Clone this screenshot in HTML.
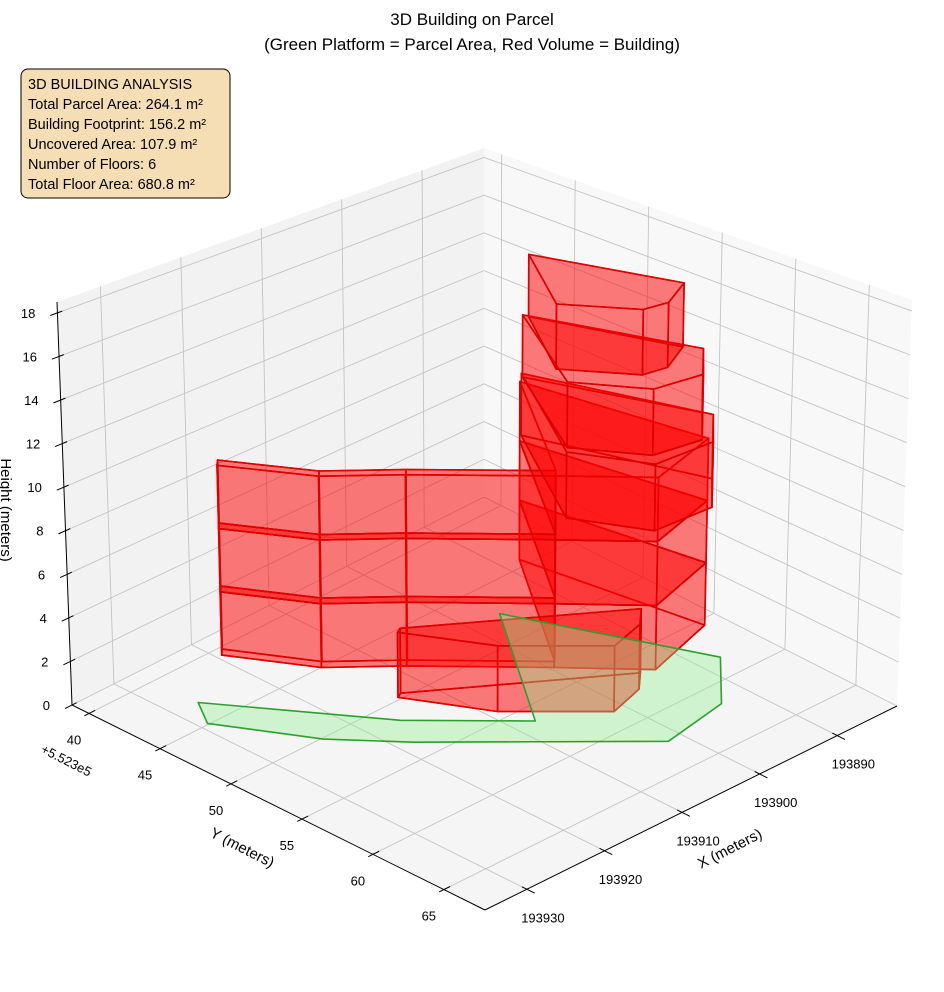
<!DOCTYPE html>
<html><head><meta charset="utf-8"><style>
html,body{margin:0;padding:0;background:#fff;}
svg{display:block;font-family:"Liberation Sans",sans-serif;}
</style></head><body>
<svg id="chart" width="944" height="992" viewBox="0 0 944 992" xmlns="http://www.w3.org/2000/svg">
<rect width="944" height="992" fill="#fff"/>
<g id="panes"></g>
<g id="grid"></g>
<g id="axes"></g>
<g id="building"></g>
<g id="parcel"></g>
<g id="labels"></g>
<text x="472" y="25" text-anchor="middle" font-size="17" fill="#000">3D Building on Parcel</text>
<text x="472" y="50" text-anchor="middle" font-size="17" fill="#000">(Green Platform = Parcel Area, Red Volume = Building)</text>
<g>
<rect x="21" y="69" width="209" height="129" rx="7" fill="#f5deb3" stroke="#000" stroke-width="1"/>
<text x="28" y="89" font-size="14.5">3D BUILDING ANALYSIS</text>
<text x="28" y="109" font-size="14.5">Total Parcel Area: 264.1 m²</text>
<text x="28" y="129" font-size="14.5">Building Footprint: 156.2 m²</text>
<text x="28" y="149" font-size="14.5">Uncovered Area: 107.9 m²</text>
<text x="28" y="169" font-size="14.5">Number of Floors: 6</text>
<text x="28" y="189" font-size="14.5">Total Floor Area: 680.8 m²</text>
</g>
<text transform="translate(240,852) rotate(27)" text-anchor="middle" font-size="15">Y (meters)</text>
<text transform="translate(732,853) rotate(-27)" text-anchor="middle" font-size="15">X (meters)</text>
<text transform="translate(1,510) rotate(90)" text-anchor="middle" font-size="15">Height (meters)</text>
<text transform="translate(40,752) rotate(27)" font-size="13">+5.523e5</text>
</svg>
<script>
// ---- data ----
const xTicks = [193890, 193900, 193910, 193920, 193930];
const yTicks = [40, 45, 50, 55, 60, 65];
const zTicks = [0, 2, 4, 6, 8, 10, 12, 14, 16, 18];
const parcelX = [193927.0, 193916.3, 193907.7, 193896.2, 193887.5, 193893.4, 193901.7, 193918.3, 193923.7, 193929.1];
const parcelY = [43.1, 51.5, 56.3, 47.5, 58.3, 61.6, 62.4, 53.5, 50.1, 44.9];
const lowX = [193919.4, 193914.6, 193908.9, 193899.6, 193893.3, 193884.4, 193888.0, 193898.8, 193908.1, 193913.8, 193918.6];
const lowY = [40.6, 45.0, 47.9, 53.2, 56.9, 55.5, 44.4, 52.8, 47.5, 44.6, 40.2];
const lowFloors = [0, 1, 2];
const boxX = [193913.5, 193908.9, 193901.4, 193896.9, 193894.7, 193912.8];
const boxY = [49.8, 54.3, 58.4, 57.7, 56.6, 49.6];
const boxFloors = [0];
const f3X = [193895.8, 193890.1, 193894.3, 193901.4, 193905.1];
const f3Y = [48.75, 58.85, 61.15, 61.05, 56.95];
const f4X = [193896.3, 193890.5, 193894.7, 193900.2, 193904.4];
const f4Y = [49.1, 58.3, 60.6, 60.2, 56.6];
const f5X = [193896.2, 193891.5, 193895.8, 193898.6, 193903.0];
const f5Y = [49.45, 57.45, 58.75, 58.55, 55.05];
const floorHeight = 3;

// ---- axis setup ----
const xmin = 193882.3, xmax = 193935.4, ymin = 38.8, ymax = 67.9, zmin = 0, zmax = 18.5;
const C = {
  b00: [484, 497], b10: [72, 705], b11: [485, 910], b01: [897, 706],
  t00: [484, 148], t10: [57, 302], t11: [485, 455], t01: [912, 300]
};
function lerp(p, q, t) { return [p[0] + (q[0] - p[0]) * t, p[1] + (q[1] - p[1]) * t]; }
function proj(x, y, z) {
  const a = (x - xmin) / (xmax - xmin), b = (y - ymin) / (ymax - ymin), c = (z - zmin) / (zmax - zmin);
  const bot = lerp(lerp(C.b00, C.b10, a), lerp(C.b01, C.b11, a), b);
  const top = lerp(lerp(C.t00, C.t10, a), lerp(C.t01, C.t11, a), b);
  return lerp(bot, top, c);
}
const NS = 'http://www.w3.org/2000/svg';
function mk(tag, parent, attrs) {
  const e = document.createElementNS(NS, tag);
  for (const k in attrs) e.setAttribute(k, attrs[k]);
  parent.appendChild(e); return e;
}
function pts(list) { return list.map(p => p[0].toFixed(1) + ',' + p[1].toFixed(1)).join(' '); }

// panes
const panes = document.getElementById('panes');
let e;
e = mk('polygon', panes, { points: pts([proj(xmin, ymin, 0), proj(xmax, ymin, 0), proj(xmax, ymin, zmax), proj(xmin, ymin, zmax)]), fill: '#f2f2f2' });


e = mk('polygon', panes, { points: pts([proj(xmin, ymin, 0), proj(xmin, ymax, 0), proj(xmin, ymax, zmax), proj(xmin, ymin, zmax)]), fill: '#f8f8f8' });


e = mk('polygon', panes, { points: pts([proj(xmin, ymin, 0), proj(xmax, ymin, 0), proj(xmax, ymax, 0), proj(xmin, ymax, 0)]), fill: '#f5f5f5' });



// grid
const grid = document.getElementById('grid');
function gl(p, q, name) {
  const l = mk('line', grid, { x1: p[0], y1: p[1], x2: q[0], y2: q[1], stroke: '#c4c4c4', 'stroke-width': 0.9 });
  
  
}
xTicks.forEach(x => {
  gl(proj(x, ymin, 0), proj(x, ymax, 0), 'x-grid-floor');
  gl(proj(x, ymin, 0), proj(x, ymin, zmax), 'x-grid-wall');
});
yTicks.forEach(y => {
  gl(proj(xmin, y, 0), proj(xmax, y, 0), 'y-grid-floor');
  gl(proj(xmin, y, 0), proj(xmin, y, zmax), 'y-grid-wall');
});
zTicks.forEach(z => {
  gl(proj(xmax, ymin, z), proj(xmin, ymin, z), 'z-grid-left');
  gl(proj(xmin, ymin, z), proj(xmin, ymax, z), 'z-grid-right');
});

// axes lines and ticks
const axes = document.getElementById('axes');
function al(p, q, name, w) {
  const l = mk('line', axes, { x1: p[0], y1: p[1], x2: q[0], y2: q[1], stroke: '#000', 'stroke-width': w });
  
  
}
al(proj(xmax, ymin, 0), proj(xmax, ymin, zmax), 'z-axis-line', 1);
al(proj(xmax, ymin, 0), proj(xmax, ymax, 0), 'y-axis-line', 1);
al(proj(xmax, ymax, 0), proj(xmin, ymax, 0), 'x-axis-line', 1);
const labels = document.getElementById('labels');
function tl(p, txt, anchor, name) {
  const t = mk('text', labels, { x: p[0].toFixed(1), y: p[1].toFixed(1), 'text-anchor': anchor, 'font-size': 13, fill: '#000' });
  t.textContent = txt;
  
  
}
xTicks.forEach(x => {
  al(proj(x, ymax - 0.35, 0), proj(x, ymax + 0.55, 0), 'x-tick', 1);
  const p = proj(x, ymax, 0);
  tl([p[0] + 16, p[1] + 33], String(x), 'middle', 'x-tick-label');
});
yTicks.forEach(y => {
  al(proj(xmax - 0.8, y, 0), proj(xmax + 0.6, y, 0), 'y-tick', 1);
  const p = proj(xmax, y, 0);
  tl([p[0] - 15, p[1] + 31], String(y), 'middle', 'y-tick-label');
});
zTicks.forEach(z => {
  al(proj(xmax + 0.9, ymin, z), proj(xmax - 0.6, ymin, z), 'z-tick', 1);
  const p = proj(xmax, ymin, z);
  tl([p[0] - 22, p[1] + 5], String(z), 'end', 'z-tick-label');
});

// building prisms
const bld = document.getElementById('building');
function prism(xs, ys, z0, z1, name) {
  const g = mk('g', bld, {});
  
  
  const n = xs.length;
  const bot = xs.map((x, i) => proj(x, ys[i], z0));
  const top = xs.map((x, i) => proj(x, ys[i], z1));
  const st = { fill: 'rgba(255,0,0,0.3)', stroke: '#dd0000', 'stroke-width': 1.6, 'stroke-linejoin': 'round' };
  let f = mk('polygon', g, Object.assign({ points: pts(bot) }, st));
  
  
  for (let i = 0; i < n; i++) {
    const j = (i + 1) % n;
    f = mk('polygon', g, Object.assign({ points: pts([bot[i], bot[j], top[j], top[i]]) }, st));
    
    
  }
  f = mk('polygon', g, Object.assign({ points: pts(top) }, st));
  
  
}
lowFloors.forEach(k => prism(lowX, lowY, k * floorHeight, (k + 1) * floorHeight, 'low-floor-' + k));
boxFloors.forEach(k => prism(boxX, boxY, k * floorHeight, (k + 1) * floorHeight, 'front-box-floor-' + k));
prism(f3X, f3Y, 3 * floorHeight, 4 * floorHeight, 'tower-floor-3');
prism(f4X, f4Y, 4 * floorHeight, 5 * floorHeight, 'tower-floor-4');
prism(f5X, f5Y, 5 * floorHeight, 6 * floorHeight, 'tower-floor-5');

// parcel
const par = document.getElementById('parcel');
const pp = mk('polygon', par, { points: pts(parcelX.map((x, i) => proj(x, parcelY[i], 0))), fill: 'rgba(144,238,144,0.38)', stroke: '#2ca02c', 'stroke-width': 1.6, 'stroke-linejoin': 'round' });


</script>
</body></html>
